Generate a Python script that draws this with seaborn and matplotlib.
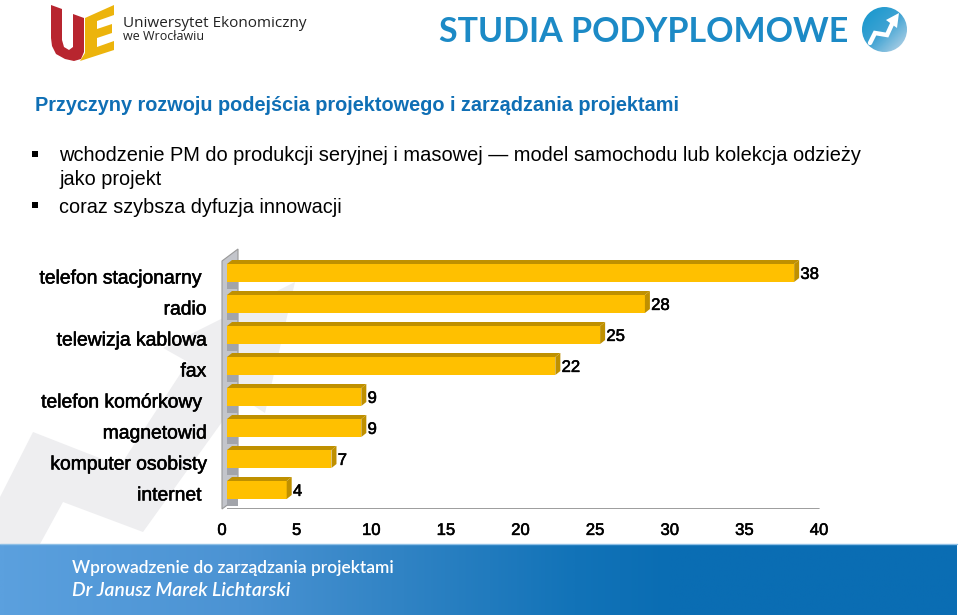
import numpy as np
import matplotlib
matplotlib.use("Agg")
import matplotlib.pyplot as plt
import matplotlib.patheffects as pe
from matplotlib.colors import LinearSegmentedColormap
from matplotlib.patches import Polygon, Circle, Rectangle
from matplotlib.transforms import IdentityTransform, ScaledTranslation
import seaborn as sns

# dane z wykresu
categories = ["telefon stacjonarny ", "radio", "telewizja kablowa", "fax",
              "telefon komórkowy ", "magnetowid", "komputer osobisty", "internet "]
values = [38, 28, 25, 22, 9, 9, 7, 4]
x_ticks = [0, 5, 10, 15, 20, 25, 30, 35, 40]

title = "Przyczyny rozwoju podejścia projektowego i zarządzania projektami"
bullets = ["wchodzenie PM do produkcji seryjnej i masowej — model samochodu lub kolekcja odzieży",
           "jako projekt", "coraz szybsza dyfuzja innowacji"]

W, H = 960, 615
BAR = "#ffc000"
BAR_DARK = "#bf9000"
BLUE = "#0f6fb5"

sns.set_theme(style="white")
plt.rcParams["font.family"] = ["Liberation Sans", "DejaVu Sans"]
fig = plt.figure(figsize=(W / 100, H / 100), dpi=100, facecolor="white")

# warstwa tla w pikselach obrazu
bg = fig.add_axes([0, 0, 1, 1], zorder=0)
bg.set_xlim(0, W)
bg.set_ylim(H, 0)
bg.axis("off")

# znak wodny
bg.add_patch(Polygon([(0, 497), (33, 432), (120, 466), (188, 362), (163, 348), (295, 282),
                      (265, 413), (240, 397), (143, 532), (63, 502), (40, 544), (0, 544)],
                     fc="#eeeef0", ec="none"))

# stopka
foot = LinearSegmentedColormap.from_list("foot", [(0, "#5ba0de"), (0.25, "#4b93d3"), (0.42, "#3083c4"),
                                                  (0.6, "#1273b8"), (0.7, "#0a6db3"), (1, "#0a6db3")])
bg.imshow(np.linspace(0, 1, 400)[None, :], extent=(0, 957, 615, 544), cmap=foot, aspect="auto", zorder=1)
bg.plot([0, 957], [544, 544], color="#8fc0e6", lw=1, zorder=2)
bg.set_xlim(0, W)
bg.set_ylim(H, 0)
bg.text(72, 573, "Wprowadzenie do zarządzania projektami", color="white", fontsize=12.55,
        family="Lato", weight="semibold", zorder=3)
bg.text(72, 596, "Dr Janusz Marek Lichtarski", color="white", fontsize=13.9,
        family="Lato", weight="semibold", style="italic", zorder=3)

# logo
bg.add_patch(Polygon([(51, 5), (62, 9), (62, 40), (64, 47), (69, 50), (73, 47), (73, 14), (84, 18), (84, 52),
                      (81, 59), (74, 61), (65, 59), (56, 54), (52, 46), (51, 38)], fc="#b8252f", ec="none"))
bg.add_patch(Polygon([(85, 18), (114, 5), (114, 15), (97, 21), (97, 29), (112, 24), (112, 33), (97, 38),
                      (97, 47), (114, 41), (114, 50), (80, 61), (85, 53)], fc="#ecb40c", ec="none"))
bg.text(123, 27, "Uniwersytet Ekonomiczny", color="#222222", fontsize=11, family="Open Sans")
bg.text(123, 40, "we Wrocławiu", color="#222222", fontsize=9, family="Open Sans")

# naglowek i ikona
bg.text(439, 42, "STUDIA PODYPLOMOWE", color="#1c8ac6", fontsize=24.5, family="Lato", weight="bold")
globe = LinearSegmentedColormap.from_list("globe", ["#1296cd", "#3fa3d3", "#c3d8e9"])
gx, gy = np.meshgrid(np.linspace(0, 1, 60), np.linspace(0, 1, 60))
im = bg.imshow((gx + gy) / 2, extent=(862, 907, 52, 7), cmap=globe, aspect="auto", zorder=1)
im.set_clip_path(Circle((884.5, 29.5), 22.5, transform=bg.transData))
bg.plot([870, 875, 887, 893], [43, 33, 35, 22], color="white", lw=3.2, solid_joinstyle="miter", zorder=2)
bg.add_patch(Polygon([(899, 13), (886, 20), (897, 28)], fc="white", ec="none", zorder=2))
bg.set_xlim(0, W)
bg.set_ylim(H, 0)

# tekst slajdu
bg.text(35, 111, title, color=BLUE, fontsize=14.35, weight="bold")
for txt, yy, fs in zip(bullets, [161, 185, 213], [14.4, 14.3, 14.3]):
    bg.text(59, yy, txt, color="black", fontsize=fs)
for yy in [154, 205]:
    bg.add_patch(Rectangle((32, yy - 3), 6, 6, fc="black", ec="none"))

# wykres
ax = fig.add_axes([227 / W, 1 - 509 / H, 597 / W, 260 / H], zorder=1)
ax.patch.set_alpha(0)
sns.barplot(x=values, y=categories, orient="h", color=BAR, saturation=1, width=18 / 31, ax=ax,
            edgecolor="none", linewidth=0)
ax.set_xlim(0, 40)
ax.set_ylim((509 - 273) / 31, (249 - 273) / 31)
sns.despine(ax=ax, left=True, bottom=True)
ax.set_xticks(x_ticks)
ax.set_xlabel("")
ax.set_ylabel("")
ax.grid(False)
ax.tick_params(axis="both", length=0)

bold_look = [pe.withStroke(linewidth=0.4, foreground="black")]
ax.tick_params(axis="x", labelsize=12, pad=10, labelcolor="black")
ax.tick_params(axis="y", labelsize=13.9, pad=20, labelcolor="black")
for lab in ax.get_xticklabels():
    lab.set_transform(lab.get_transform() + ScaledTranslation(-5 / 100, 0, fig.dpi_scale_trans))
    lab.set_path_effects(bold_look)
ax.set_yticks(range(len(categories)))
ax.set_yticklabels([c.strip() for c in categories])
for lab, cat in zip(ax.get_yticklabels(), categories):
    shift = 2 if cat.endswith(" ") else 7
    lab.set_transform(lab.get_transform() + ScaledTranslation(shift / 100, -4 / 100, fig.dpi_scale_trans))
    lab.set_path_effects(bold_look)

# efekt 3D - sciana, podloga, cieniowanie (w pikselach od poczatku osi)
y0 = H - 509
wall = Polygon([(222, H - 261), (238, H - 249), (238, H - 497), (222, y0)], transform=IdentityTransform(),
               fc="#c3c5cb", ec="#999999", lw=0.8, zorder=0.5, clip_on=False)
ax.add_patch(wall)
ax.add_line(plt.Line2D([222, 238], [y0, y0 + 12], transform=IdentityTransform(), color="#a8a8a8", lw=1, zorder=0.6))
ax.add_line(plt.Line2D([222, 818.5], [y0, y0], transform=IdentityTransform(), color="#8c8c8c", lw=1.2, zorder=0.6))

fig.canvas.draw()
dx, dy = 5, 4
for p in ax.patches:
    if p is wall:
        continue
    (x1, y1), (x2, y2) = ax.transData.transform([(0, p.get_y()), (p.get_width(), p.get_y() + p.get_height())])
    yb, yt = min(y1, y2), max(y1, y2)
    ax.add_patch(Polygon([(x1, yt), (x2, yt), (x2 + dx, yt + dy), (x1 + dx, yt + dy)], transform=IdentityTransform(),
                         fc=BAR_DARK, ec="none", zorder=3, clip_on=False))
    ax.add_patch(Polygon([(x2, yb), (x2, yt), (x2 + dx, yt + dy), (x2 + dx, yb + dy)], transform=IdentityTransform(),
                         fc=BAR_DARK, ec="none", zorder=3, clip_on=False))
    ax.add_patch(Rectangle((x1, yb - 7), 11, 7, transform=IdentityTransform(), fc="#a2a4aa", ec="none",
                           zorder=0.7, clip_on=False))

labels = ax.bar_label(ax.containers[0], padding=4.5, fontsize=12, color="black")
for t in labels:
    t.set_path_effects(bold_look)
    t.set_clip_on(False)
    t.xyann = (t.xyann[0], -1)

fig.savefig("out.png", dpi=100)
